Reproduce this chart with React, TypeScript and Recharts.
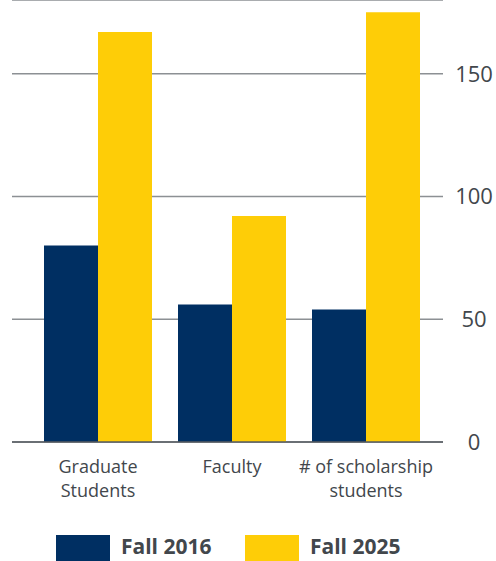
import React from 'react';
import { BarChart, Bar, XAxis, YAxis, CartesianGrid, Legend } from 'recharts';

// Data
const categories = ['Graduate Students', 'Faculty', '# of scholarship students'];
const categoryLines = [['Graduate', 'Students'], ['Faculty'], ['# of scholarship', 'students']];
const fall2016 = [80, 56, 54];
const fall2025 = [167, 92, 175];
const yTicks = [0, 50, 100, 150];

const NAVY = '#002f62';
const MAIZE = '#fecd07';
const TEXT = '#42474c';
const FONT = '"Open Sans", sans-serif';

const data = categories.map((name, i) => ({
  name,
  fall2016: fall2016[i],
  fall2025: fall2025[i],
}));

const XTick = (props: any) => {
  const { x, y, index } = props;
  const lines = categoryLines[index] || [props.payload.value];
  return (
    <text x={x} y={y} textAnchor="middle" fill={TEXT} fontSize={18} fontFamily={FONT}>
      {lines.map((l, i) => (
        <tspan key={i} x={x} dy={i === 0 ? 31 : 24}>
          {l}
        </tspan>
      ))}
    </text>
  );
};

const YTick = (props: any) => {
  const { x, y, payload } = props;
  return (
    <text x={x + 31} y={y} dy={8} textAnchor="middle" fill={TEXT} fontSize={22} fontFamily={FONT}>
      {payload.value}
    </text>
  );
};

const LegendContent = () => (
  <svg width={496} height={28} style={{ display: 'block' }}>
    <rect x={56} y={2} width={54} height={26} fill={NAVY} />
    <text x={121} y={21} fill={TEXT} fontSize={21} fontWeight={700} fontFamily={FONT}>
      Fall 2016
    </text>
    <rect x={245} y={2} width={54} height={26} fill={MAIZE} />
    <text x={310} y={21} fill={TEXT} fontSize={21} fontWeight={700} fontFamily={FONT}>
      Fall 2025
    </text>
  </svg>
);

export default function App() {
  return (
    <div style={{ position: 'absolute', left: 0, top: 0, width: 496, height: 561, background: '#fff' }}>
      <BarChart
        width={496}
        height={561}
        data={data}
        barGap={0}
        margin={{ top: 0, right: 0, left: 12, bottom: 0 }}
      >
        <CartesianGrid vertical={false} stroke="#8c9094" strokeWidth={1.5} />
        <XAxis
          dataKey="name"
          height={91}
          padding={{ left: 19, right: 10 }}
          tickLine={false}
          tickSize={0}
          tickMargin={0}
          axisLine={{ stroke: '#565b60', strokeWidth: 1.5 }}
          tick={<XTick />}
          interval={0}
        />
        <YAxis
          orientation="right"
          width={53}
          domain={[0, 180]}
          ticks={yTicks}
          axisLine={false}
          tickLine={false}
          tickSize={0}
          tickMargin={0}
          tick={<YTick />}
        />
        <Legend
          verticalAlign="bottom"
          height={28}
          wrapperStyle={{ left: 0, bottom: 0, width: 496, height: 28 }}
          content={<LegendContent />}
        />
        <Bar dataKey="fall2016" name="Fall 2016" fill={NAVY} barSize={54} isAnimationActive={false} />
        <Bar dataKey="fall2025" name="Fall 2025" fill={MAIZE} barSize={54} isAnimationActive={false} />
      </BarChart>
    </div>
  );
}
